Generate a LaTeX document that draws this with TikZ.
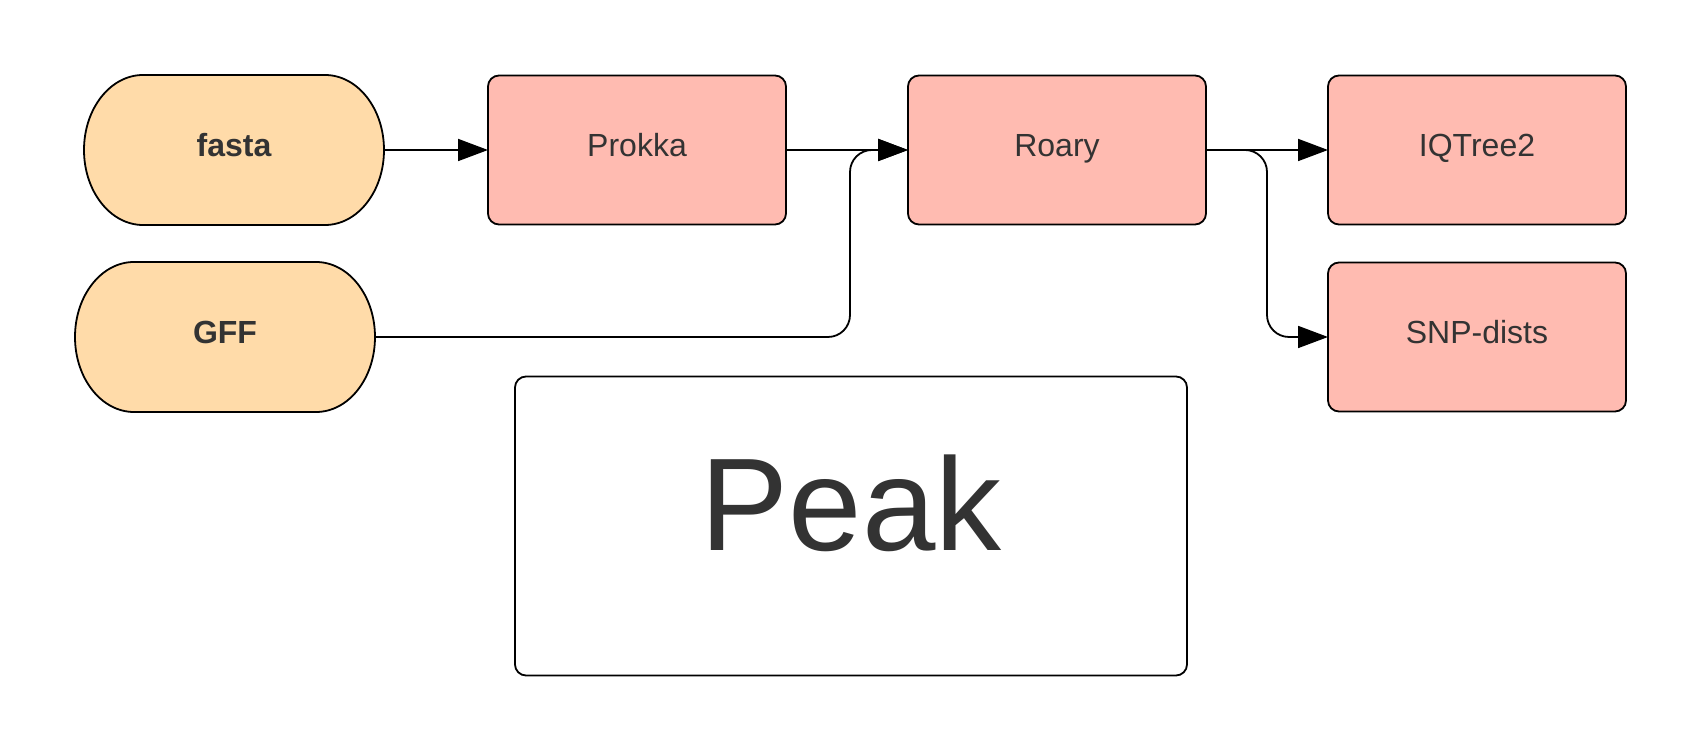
\documentclass[tikz,border=0pt]{standalone}
\usepackage{fontspec}
\setmainfont{Liberation Sans}
\usetikzlibrary{arrows.meta}
\pgfdeclarelayer{background}
\pgfsetlayers{background,main}
\definecolor{inorange}{HTML}{FFDBA9}
\definecolor{stpink}{HTML}{FFBBB1}
\definecolor{txt}{HTML}{333333}
\tikzset{
  x=1pt,y=1pt,
  base/.style={outer sep=0pt,inner sep=0pt,text=txt,font=\fontsize{32}{38}\selectfont,text height=23pt,text depth=10pt},
  inbox/.style={base,draw=none,minimum width=300pt,minimum height=150pt,font=\fontsize{32}{38}\selectfont\bfseries},
  stad/.style={fill=inorange,draw=black,line width=1.8pt},
  stepbox/.style={base,draw=black,fill=stpink,line width=1.8pt,rounded corners=11pt,minimum width=298pt,minimum height=149pt},
  conn/.style={draw=black,line width=1.8pt,-{Triangle[length=30pt,width=22pt]}},
}
\newcommand{\stadiumshape}[1]{%
  \begin{pgfonlayer}{background}
  \path[stad] ([xshift=59pt]#1.north west) -- ([xshift=-59pt]#1.north east)
    arc[start angle=90,end angle=-90,x radius=59pt,y radius=75pt]
    -- ([xshift=59pt]#1.south west)
    arc[start angle=270,end angle=90,x radius=59pt,y radius=75pt] -- cycle;
  \end{pgfonlayer}}
\begin{document}
\begin{tikzpicture}
\begin{pgfonlayer}{background}
\fill[white] (0,0) rectangle (1703,752);
\end{pgfonlayer}
\useasboundingbox (0,0) rectangle (1703,752);
\node[inbox] (fasta) at (234,602) {fasta};
\node[inbox] (gff) at (225,415) {GFF};
\stadiumshape{fasta}
\stadiumshape{gff}
\node[stepbox] (prokka) at (637,602) {Prokka};
\node[stepbox] (roary) at (1057,602) {Roary};
\node[stepbox] (iqtree) at (1477,602) {IQTree2};
\node[stepbox] (snp) at (1477,415) {SNP-dists};
\node[base,draw=black,line width=1.8pt,rounded corners=11pt,minimum width=672pt,minimum height=299pt,font=\fontsize{132}{150}\selectfont,text height=95pt,text depth=45pt] (peak) at (851,226) {Peak};
\coordinate (j1) at (850,415);
\coordinate (j2) at (1267,415);
\draw[conn] (fasta.east) -- (prokka.west);
\draw[conn] (prokka.east) -- (roary.west);
\draw[conn,rounded corners=22pt] (gff.east) -- (j1) -- (j1 |- roary.west) -- (roary.west);
\draw[conn] (roary.east) -- (iqtree.west);
\draw[conn,rounded corners=22pt] (roary.east) -- (j2 |- roary.east) -- (j2) -- (snp.west);
\end{tikzpicture}
\end{document}
